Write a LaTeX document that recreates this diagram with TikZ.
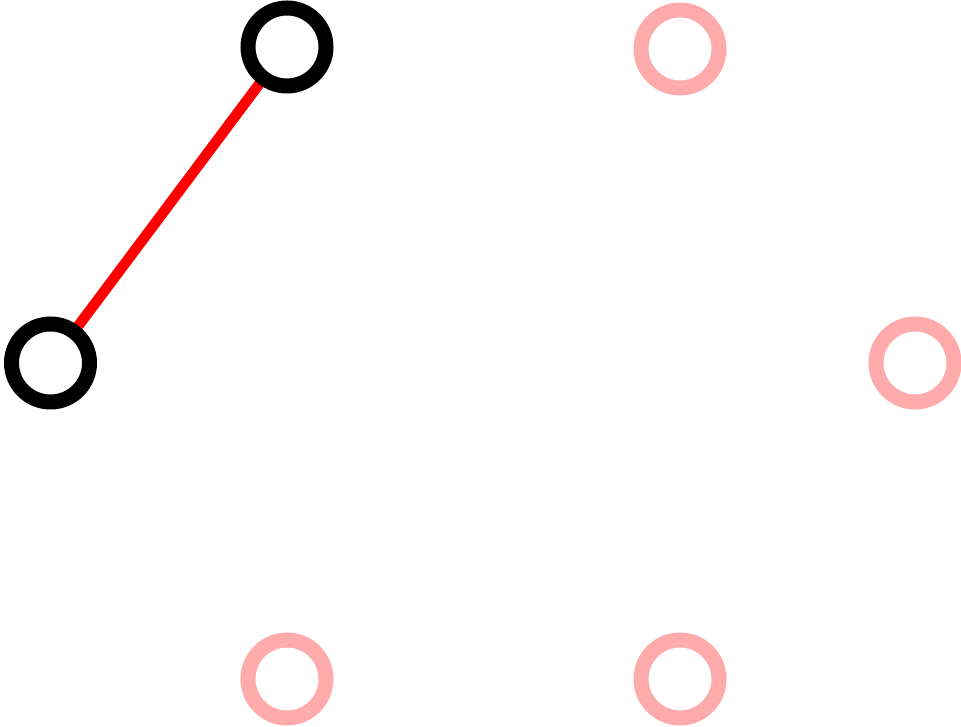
\documentclass[tikz,border=0pt]{standalone}
\pgfdeclarelayer{background}
\pgfsetlayers{background,main}
\begin{document}
\begin{tikzpicture}[x=1pt,y=1pt,
  vtx/.style={circle,draw=black,line width=15pt,minimum size=78pt,inner sep=0pt,fill=white},
  faded/.style={vtx,draw=red!33},
  edge/.style={red,line width=10.5pt}]
\useasboundingbox (0,0) rectangle (961,727);
\node[vtx]   (a) at (287,680) {};
\node[vtx]   (b) at (50.5,364) {};
\node[faded] (c) at (680,678) {};
\node[faded] (d) at (915,364) {};
\node[faded] (e) at (287,48) {};
\node[faded] (f) at (680,48) {};
\begin{pgfonlayer}{background}
\draw[edge] (b.center) -- (a.center);
\end{pgfonlayer}
\end{tikzpicture}
\end{document}
